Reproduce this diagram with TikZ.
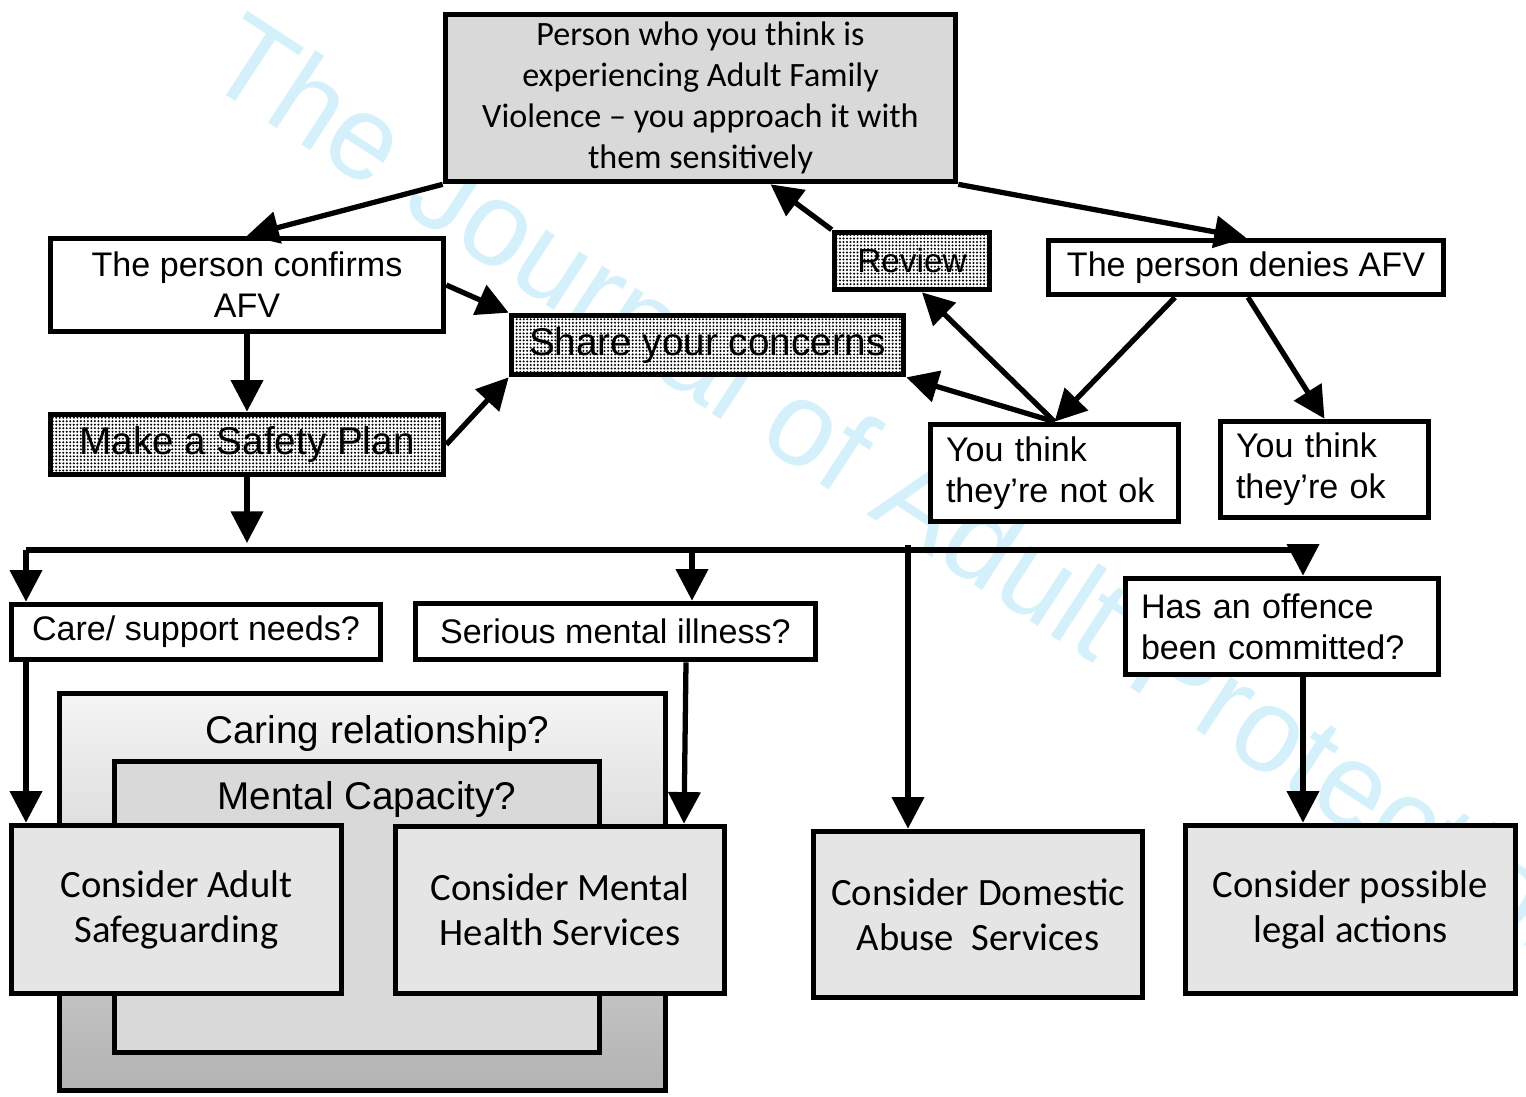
\documentclass[tikz,border=0pt]{standalone}
\usepackage{fontspec}
\setmainfont{Liberation Sans}
\newfontfamily\calibri{Carlito}
\usepackage{xcolor}
\usetikzlibrary{arrows.meta,positioning,patterns,shapes}

\definecolor{wmblue}{HTML}{D4F0FB}
\newcommand{\smallfont}{\fontsize{9.7}{11.7}\selectfont}
\newcommand{\bigfont}{\fontsize{11}{12.8}\selectfont}

\pgfdeclarepatternformonly{finedots}{\pgfqpoint{-0.5pt}{-0.5pt}}{\pgfqpoint{0.5pt}{0.5pt}}{\pgfqpoint{1pt}{1pt}}{%
  \pgfpathcircle{\pgfpointorigin}{0.32pt}\pgfusepath{fill}}

\tikzstyle{arrow} = [line width=1.5pt,-{Triangle[length=9pt,width=9pt]}]
\tikzstyle{line} = [line width=1.5pt]
\tikzstyle{box} = [draw, line width=1.6pt, fill=white, align=center, inner sep=1pt, font=\smallfont]
\tikzstyle{leftbox} = [box, align=left, inner xsep=0.155cm]
\tikzstyle{dotbox} = [box, preaction={fill=white}, pattern=finedots, font=\bigfont]
\tikzstyle{greybox} = [box, fill=black!10, font=\calibri\bigfont]

\begin{document}
\begin{tikzpicture}
            \useasboundingbox (0,0) rectangle (15.26,-10.96);

            % watermark
            \begin{scope}
            \clip (0,0) rectangle (15.26,-10.96);
            \node[anchor=base west, rotate=-33.2, inner sep=0pt, text=wmblue,
                  font=\fontsize{34}{34}\selectfont] (wm) at (1.995,-0.78) {The Journal of Adult Protection};
            \end{scope}

            % nested question boxes
            \node[draw, line width=1.6pt, top color=black!4, bottom color=black!30,
                  minimum width=6.06cm, minimum height=3.97cm] (caring) at (3.625,-8.92) {};
            \node[font=\bigfont, below=0.12cm of caring.north, xshift=0.15cm] (caringlbl) {Caring relationship?};
            \node[draw, line width=1.6pt, fill=black!15,
                  minimum width=4.85cm, minimum height=2.91cm] (capacity) at (3.57,-9.07) {};
            \node[font=\bigfont, below=0.1cm of capacity.north, xshift=0.1cm] (capacitylbl) {Mental Capacity?};

            % top part
            \node[box, fill=black!15, font=\calibri\smallfont, minimum width=5.1cm, minimum height=1.67cm]
                (top) at (7.005,-0.98) {Person who you think is\\experiencing Adult Family\\Violence – you approach it with\\them sensitively};
            \node[box, minimum width=3.93cm, minimum height=0.93cm] (confirms) at (2.47,-2.85) {The person confirms\\AFV};
            \node[dotbox, minimum width=3.93cm, minimum height=0.6cm] (safety) at (2.47,-4.445) {Make a Safety Plan};
            \node[dotbox, minimum width=3.92cm, minimum height=0.59cm] (share) at (7.075,-3.45) {Share your concerns};
            \node[dotbox, font=\fontsize{9.5}{11}\selectfont, minimum width=1.55cm, minimum height=0.57cm] (review) at (9.12,-2.61) {Review};
            \node[box, minimum width=3.95cm, minimum height=0.54cm] (denies) at (12.46,-2.675) {The person denies AFV};
            \node[leftbox, text width=2.17cm, minimum height=0.97cm] (notok) at (10.545,-4.73) {You think\\they’re not ok};
            \node[leftbox, text width=1.77cm, minimum height=0.96cm] (ok) at (13.245,-4.695) {You think\\they’re ok};

            % questions
            \node[box, minimum width=3.69cm, minimum height=0.55cm] (care) at (1.96,-6.32) {Care/ support needs?};
            \node[box, minimum width=4.0cm, minimum height=0.56cm] (smi) at (6.155,-6.315) {Serious mental illness?};
            \node[leftbox, text width=2.82cm, minimum height=0.96cm] (offence) at (12.82,-6.265) {Has an offence\\been committed?};

            % services
            \node[greybox, minimum width=3.3cm, minimum height=1.68cm] (safeg) at (1.765,-9.095) {Consider Adult\\Safeguarding};
            \node[greybox, minimum width=3.29cm, minimum height=1.67cm] (mhs) at (5.6,-9.1) {Consider Mental\\Health Services};
            \node[greybox, minimum width=3.29cm, minimum height=1.66cm] (das) at (9.78,-9.145) {Consider Domestic\\Abuse\ \ Services};
            \node[greybox, minimum width=3.3cm, minimum height=1.68cm] (legal) at (13.505,-9.095) {Consider possible\\legal actions};

            % branch line
            \coordinate (split) at (2.47,-5.43);
            \coordinate (busL) at (0.26,-5.5);
            \coordinate (busM) at (6.92,-5.5);
            \coordinate (busD) at (9.08,-5.45);
            \coordinate (busR) at (13.03,-5.5);

            % arrows, upper part
            \draw[arrow] (top.south west) -- (confirms.north);
            \draw[arrow] (top.south east) -- (denies.north);
            \draw[arrow] (review.north west) -- ([xshift=0.7cm]top.south);
            \draw[arrow] (confirms.east) -- (share.north west);
            \draw[arrow] (confirms.south) -- (safety.north);
            \draw[arrow] (safety.east) -- (share.south west);
            \draw[arrow] (safety.south) -- (split);
            \draw[arrow] (notok.north) -- (share.south east);
            \draw[arrow] (notok.north) -- ([xshift=0.1cm]review.south);
            \draw[arrow] ([xshift=-0.71cm]denies.south) -- (notok.north);
            \draw[arrow] ([xshift=0.02cm]denies.south) -- (ok.north);

            % arrows, lower part
            \draw[line] (busL) -- (busR);
            \draw[arrow] (busL) -- (busL |- care.north);
            \draw[arrow] (busM) -- (busM |- smi.north);
            \draw[arrow] (busD) -- (busD |- das.north);
            \draw[arrow] (busR) -- (busR |- offence.north);
            \draw[arrow] (busL |- care.south) -- (busL |- safeg.north);
            \draw[arrow] ([xshift=0.705cm]smi.south) -- ([xshift=1.24cm]mhs.north);
            \draw[arrow] (busR |- offence.south) -- (busR |- legal.north);
\end{tikzpicture}
\end{document}
